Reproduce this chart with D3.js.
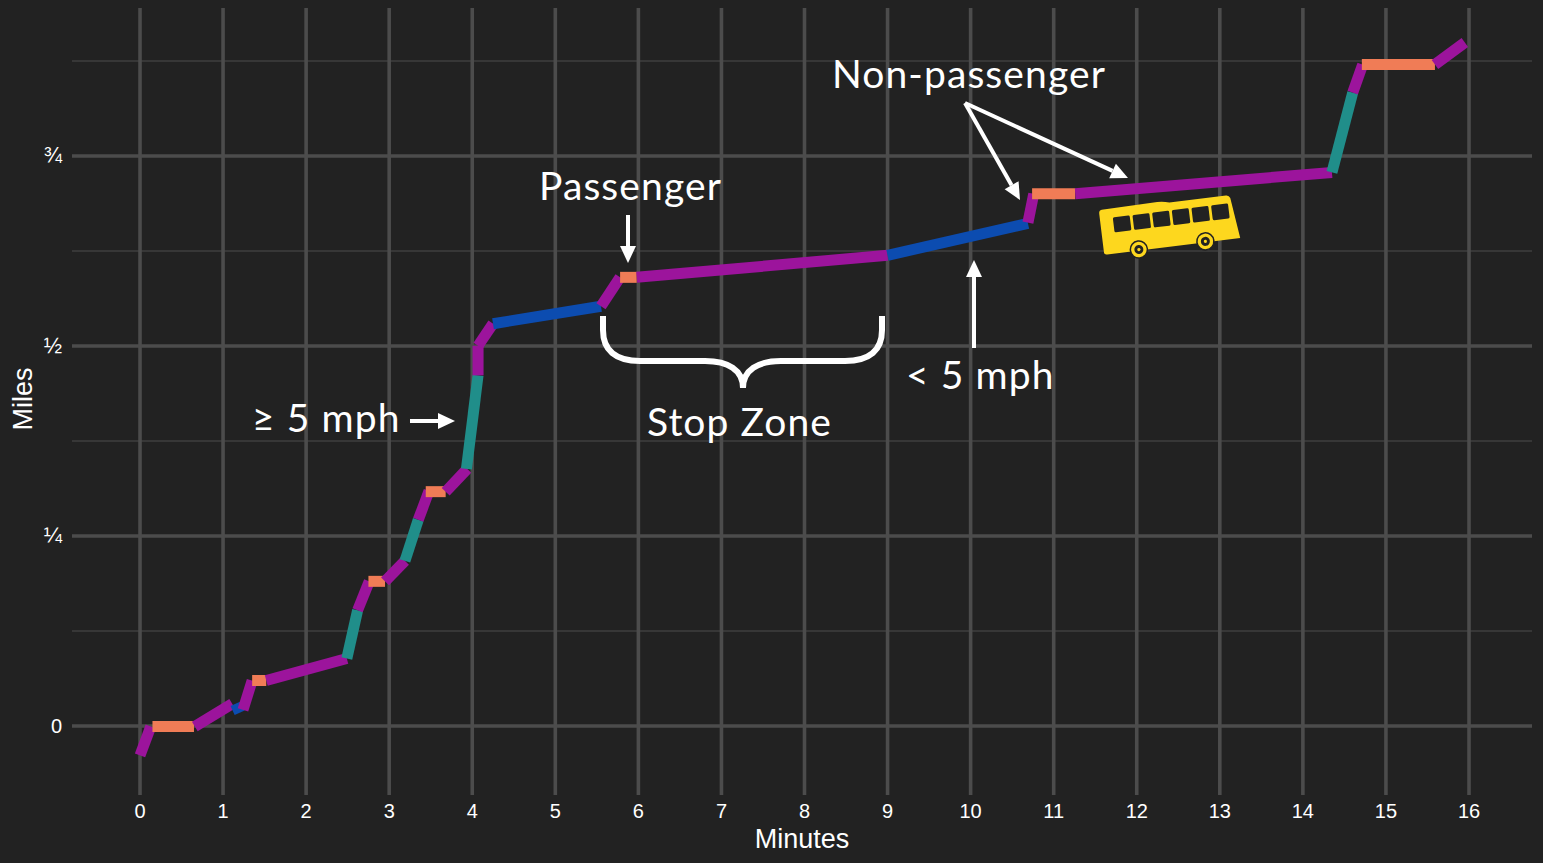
<!DOCTYPE html>
<html>
<head>
<meta charset="utf-8">
<script src="https://d3js.org/d3.v7.min.js"></script>
<style>
  html, body { margin: 0; padding: 0; background: #222222; overflow: hidden; }
  text { font-family: "Liberation Sans", Arial, sans-serif; fill: #fff; }
  .note { font-family: Lato, sans-serif; font-size: 39px; letter-spacing: 1.1px; }
</style>
</head>
<body>
<div id="chart"></div>
<script>
const xTicks = d3.range(0, 17);
const yMajor = [0, 0.25, 0.5, 0.75];
const yMinor = [0.125, 0.375, 0.625, 0.875];
const yLabels = ["0", "¼", "½", "¾"];

// one entry per segment of the trip
const segKind = ["stop", "wait", "stop", "slow", "stop", "wait", "stop", "fast", "stop", "wait", "stop", "fast", "stop", "wait", "stop", "fast", "stop", "stop", "slow", "stop", "wait", "stop", "slow", "stop", "wait", "stop", "fast", "stop", "wait", "stop"];
const segMin0 = [0, 0.15, 0.66, 1.15, 1.24, 1.35, 1.52, 2.49, 2.62, 2.75, 2.95, 3.19, 3.35, 3.44, 3.68, 3.93, 4.07, 4.07, 4.25, 5.55, 5.78, 5.98, 9.0, 10.69, 10.74, 11.26, 14.35, 14.6, 14.71, 15.59];
const segMin1 = [0.13, 0.65, 1.11, 1.2, 1.35, 1.52, 2.49, 2.62, 2.76, 2.95, 3.19, 3.35, 3.48, 3.68, 3.94, 4.07, 4.07, 4.25, 5.55, 5.78, 5.98, 9.0, 10.69, 10.76, 11.26, 14.35, 14.6, 14.72, 15.59, 15.95];
const segMi0 = [-0.038, 0, 0, 0.03, 0.022, 0.0605, 0.0605, 0.0895, 0.153, 0.191, 0.191, 0.218, 0.272, 0.309, 0.309, 0.339, 0.462, 0.501, 0.53, 0.553, 0.591, 0.591, 0.62, 0.663, 0.701, 0.701, 0.729, 0.834, 0.871, 0.871];
const segMi1 = [0, 0, 0.03, 0.018, 0.0605, 0.0605, 0.0895, 0.153, 0.191, 0.191, 0.218, 0.272, 0.31, 0.309, 0.339, 0.462, 0.501, 0.53, 0.553, 0.591, 0.591, 0.62, 0.662, 0.701, 0.701, 0.729, 0.834, 0.871, 0.871, 0.9];

const kindColor = { stop: "#9c149c", wait: "#f07c56", slow: "#0c4cb0", fast: "#208e8a" };

const width = 1543,
  height = 863;

const x = d3.scaleLinear().domain([0, 16]).range([140, 1469]);
const y = d3.scaleLinear().domain([0, 0.75]).range([726, 156]);

const svg = d3.select("#chart").append("svg")
  .attr("width", width)
  .attr("height", height)
  .style("display", "block");

// Grid
const grid = svg.append("g").attr("stroke", "#4c4c4c");
grid.selectAll("line.minor").data(yMinor).join("line")
  .attr("class", "minor")
  .attr("x1", 72).attr("x2", 1532)
  .attr("y1", d => y(d)).attr("y2", d => y(d))
  .attr("stroke-width", 1.2);
grid.selectAll("line.major").data(yMajor).join("line")
  .attr("class", "major")
  .attr("x1", 72).attr("x2", 1532)
  .attr("y1", d => y(d)).attr("y2", d => y(d))
  .attr("stroke-width", 3.5);
grid.selectAll("line.vert").data(xTicks).join("line")
  .attr("class", "vert")
  .attr("x1", d => x(d)).attr("x2", d => x(d))
  .attr("y1", 8).attr("y2", 795)
  .attr("stroke-width", 3.6);

// Tick labels
svg.append("g").selectAll("text").data(xTicks).join("text")
  .attr("x", d => x(d))
  .attr("y", 818)
  .attr("text-anchor", "middle")
  .attr("font-size", 20)
  .text(d => d);
svg.append("g").selectAll("text").data(yMajor).join("text")
  .attr("x", 62)
  .attr("y", d => y(d) + 7)
  .attr("text-anchor", "end")
  .attr("font-size", (d, i) => i ? 22 : 20)
  .text((d, i) => yLabels[i]);

svg.append("text")
  .attr("x", 802).attr("y", 848)
  .attr("text-anchor", "middle")
  .attr("font-size", 27)
  .text("Minutes");
svg.append("text")
  .attr("transform", "translate(32,399) rotate(-90)")
  .attr("text-anchor", "middle")
  .attr("font-size", 27)
  .text("Miles");

// Trip segments
svg.append("g").attr("transform", "translate(0,0.5)")
  .selectAll("line").data(segKind).join("line")
  .attr("x1", (d, i) => x(segMin0[i]))
  .attr("x2", (d, i) => x(segMin1[i]))
  .attr("y1", (d, i) => y(segMi0[i]))
  .attr("y2", (d, i) => y(segMi1[i]))
  .attr("stroke", d => kindColor[d])
  .attr("stroke-width", 11);

// Notes
const notes = svg.append("g");
function note(txt, nx, ny) {
  notes.append("text").attr("class", "note").attr("x", nx).attr("y", ny).text(txt);
}
note("Passenger", 539, 200);
note("Non-passenger", 832, 88);
note("Stop Zone", 647, 436);
note("< 5 mph", 906, 389);
note("≥ 5 mph", 252, 432);

function arrow(x0, y0, x1, y1) {
  const a = Math.atan2(y1 - y0, x1 - x0);
  const len = 17, half = 8;
  const bx = x1 - len * Math.cos(a), by = y1 - len * Math.sin(a);
  notes.append("line")
    .attr("x1", x0).attr("y1", y0).attr("x2", bx).attr("y2", by)
    .attr("stroke", "#fff").attr("stroke-width", 4);
  notes.append("path")
    .attr("d", `M${x1},${y1}L${bx - half * Math.sin(a)},${by + half * Math.cos(a)}L${bx + half * Math.sin(a)},${by - half * Math.cos(a)}Z`)
    .attr("fill", "#fff");
}
arrow(410, 421, 455, 421);
arrow(628, 215, 628, 263);
arrow(974, 348, 974, 260);
arrow(965, 103, 1020, 200);
arrow(965, 103, 1128, 178);

// Stop zone brace
notes.append("path")
  .attr("d", "M603,316V330C603,350 615,361 640,361H705C728,361 743,370 743,388C743,370 758,361 781,361H845C870,361 882,350 882,330V316")
  .attr("fill", "none")
  .attr("stroke", "#fff")
  .attr("stroke-width", 6);

// Bus
const bus = svg.append("g").attr("transform", "translate(1100,212) rotate(-7)");
bus.append("path")
  .attr("d", "M2,-2L58,-3Q64,-3 70,-1L127,-1Q130,-1 131,2L136,43L2,43Q-1,43 -1,41L-1,2Q-1,-2 2,-2Z")
  .attr("fill", "#fdd71e");
bus.selectAll("rect").data(d3.range(6)).join("rect")
  .attr("x", d => 12 + d * 19.8)
  .attr("y", 7)
  .attr("width", 17)
  .attr("height", 15)
  .attr("rx", 1.5)
  .attr("fill", "#222222");
[34, 101].forEach(cx => {
  bus.append("circle").attr("cx", cx).attr("cy", 42).attr("r", 8.5).attr("fill", "#fdd71e").attr("stroke", "#222222").attr("stroke-width", 1.5);
  bus.append("circle").attr("cx", cx).attr("cy", 42).attr("r", 4.5).attr("fill", "#222222");
  bus.append("circle").attr("cx", cx).attr("cy", 42).attr("r", 1.6).attr("fill", "#fdd71e");
});
</script>
</body>
</html>
